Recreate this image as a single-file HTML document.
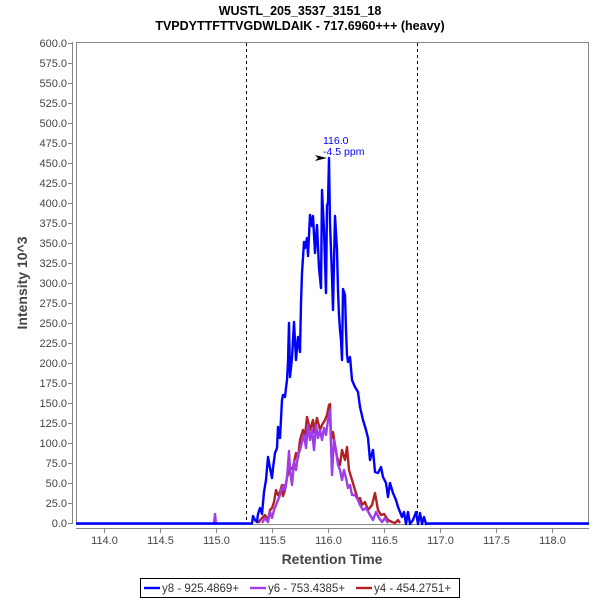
<!DOCTYPE html>
<html><head><meta charset="utf-8"><style>
html,body{margin:0;padding:0;background:#fff;}
svg{display:block;}
text{font-family:"Liberation Sans",sans-serif;}
</style></head><body>
<svg width="600" height="600" viewBox="0 0 600 600" xmlns="http://www.w3.org/2000/svg">
<rect width="600" height="600" fill="#fff"/>
<text x="300" y="15" text-anchor="middle" font-size="12.5" font-weight="bold" fill="#000">WUSTL_205_3537_3151_18</text>
<text x="300" y="30" text-anchor="middle" font-size="12.5" font-weight="bold" fill="#000">TVPDYTTFTTVGDWLDAIK - 717.6960+++ (heavy)</text>

<rect x="76.5" y="42.5" width="512" height="482" fill="#fff" stroke="#888" stroke-width="1"/>
<line x1="72.5" y1="42" x2="72.5" y2="524" stroke="#888" stroke-width="1"/>
<g stroke="#888" stroke-width="1">
<line x1="68" y1="43.5" x2="72" y2="43.5"/><line x1="68" y1="63.5" x2="72" y2="63.5"/><line x1="68" y1="83.5" x2="72" y2="83.5"/><line x1="68" y1="103.5" x2="72" y2="103.5"/><line x1="68" y1="123.5" x2="72" y2="123.5"/><line x1="68" y1="143.5" x2="72" y2="143.5"/><line x1="68" y1="163.5" x2="72" y2="163.5"/><line x1="68" y1="183.5" x2="72" y2="183.5"/><line x1="68" y1="203.5" x2="72" y2="203.5"/><line x1="68" y1="223.5" x2="72" y2="223.5"/><line x1="68" y1="243.5" x2="72" y2="243.5"/><line x1="68" y1="263.5" x2="72" y2="263.5"/><line x1="68" y1="283.5" x2="72" y2="283.5"/><line x1="68" y1="303.5" x2="72" y2="303.5"/><line x1="68" y1="323.5" x2="72" y2="323.5"/><line x1="68" y1="343.5" x2="72" y2="343.5"/><line x1="68" y1="363.5" x2="72" y2="363.5"/><line x1="68" y1="383.5" x2="72" y2="383.5"/><line x1="68" y1="403.5" x2="72" y2="403.5"/><line x1="68" y1="423.5" x2="72" y2="423.5"/><line x1="68" y1="443.5" x2="72" y2="443.5"/><line x1="68" y1="463.5" x2="72" y2="463.5"/><line x1="68" y1="483.5" x2="72" y2="483.5"/><line x1="68" y1="503.5" x2="72" y2="503.5"/><line x1="68" y1="523.5" x2="72" y2="523.5"/>
</g>
<g font-size="11" fill="#444" text-anchor="end">
<text x="67" y="47">600.0</text><text x="67" y="67">575.0</text><text x="67" y="87">550.0</text><text x="67" y="107">525.0</text><text x="67" y="127">500.0</text><text x="67" y="147">475.0</text><text x="67" y="167">450.0</text><text x="67" y="187">425.0</text><text x="67" y="207">400.0</text><text x="67" y="227">375.0</text><text x="67" y="247">350.0</text><text x="67" y="267">325.0</text><text x="67" y="287">300.0</text><text x="67" y="307">275.0</text><text x="67" y="327">250.0</text><text x="67" y="347">225.0</text><text x="67" y="367">200.0</text><text x="67" y="387">175.0</text><text x="67" y="407">150.0</text><text x="67" y="427">125.0</text><text x="67" y="447">100.0</text><text x="67" y="467">75.0</text><text x="67" y="487">50.0</text><text x="67" y="507">25.0</text><text x="67" y="527">0.0</text>
</g>
<line x1="76" y1="528.5" x2="589" y2="528.5" stroke="#888" stroke-width="1"/>
<g stroke="#888" stroke-width="1">
<line x1="104.5" y1="529" x2="104.5" y2="533"/><line x1="160.5" y1="529" x2="160.5" y2="533"/><line x1="216.5" y1="529" x2="216.5" y2="533"/><line x1="272.5" y1="529" x2="272.5" y2="533"/><line x1="328.5" y1="529" x2="328.5" y2="533"/><line x1="384.5" y1="529" x2="384.5" y2="533"/><line x1="440.5" y1="529" x2="440.5" y2="533"/><line x1="496.5" y1="529" x2="496.5" y2="533"/><line x1="552.5" y1="529" x2="552.5" y2="533"/>
</g>
<g font-size="11" fill="#444" text-anchor="middle">
<text x="104.5" y="544">114.0</text><text x="160.5" y="544">114.5</text><text x="216.5" y="544">115.0</text><text x="272.5" y="544">115.5</text><text x="328.5" y="544">116.0</text><text x="384.5" y="544">116.5</text><text x="440.5" y="544">117.0</text><text x="496.5" y="544">117.5</text><text x="552.5" y="544">118.0</text>
</g>
<text x="332" y="564" text-anchor="middle" font-size="14" font-weight="bold" fill="#444">Retention Time</text>
<text transform="translate(27,283) rotate(-90)" text-anchor="middle" font-size="14" font-weight="bold" fill="#444">Intensity 10^3</text>

<line x1="246.5" y1="43" x2="246.5" y2="524" stroke="#000" stroke-width="1" stroke-dasharray="3,3"/>
<line x1="417.5" y1="43" x2="417.5" y2="524" stroke="#000" stroke-width="1" stroke-dasharray="3,3"/>

<g fill="none" stroke-width="2.4" stroke-linejoin="round">
<polyline stroke="#b22222" points="258,523 262,518 265,515 268,520 270,510 272,508 274,502 276,490 278,495 280,492 282,485 283,496 285,490 287,477 290,470 293,467 296,453 298,458 300,440 303,430 305,436 307,417 310,430 313,420 314,432 317,418 320,430 322,425 325,420 327,415 329,405 330,404 331,440 333,432 335,445 337,457 340,465 342,450 345,460 347,447 349,470 352,480 355,490 358,500 360,498 362,505 365,502 368,510 372,505 375,493 378,510 381,515 384,514 388,520 392,522 395,523 398,520 400,523"/>
<polyline stroke="#a03ce8" points="214,524 215,514 216,524"/>
<polyline stroke="#a03ce8" points="262,523 265,518 268,522 270,512 272,518 274,510 276,505 278,500 280,495 282,488 284,485 285,490 287,478 289,451 290,470 292,485 294,462 296,470 298,455 300,450 302,442 304,435 306,448 308,425 310,440 312,430 314,450 316,425 318,438 320,430 322,440 324,428 326,435 328,420 330,410 331,445 332,475 334,440 336,450 338,465 340,470 342,480 344,470 346,478 348,488 350,485 352,495 355,495 358,500 360,505 363,510 366,508 370,515 373,520 376,512 379,518 382,522 385,518 388,523"/>
<polyline stroke="#0000ff" points="76,523.5 252,523.5 253,516 255,520 257,522 258,514 260,508 262,514 264,492 266,480 268,457 270,468 272,478 273,468 275,453 277,448 278,427 279,432 280,438 282,400 283,395 285,397 286,388 287,380 288,362 289,323 290,377 292,358 294,322 296,360 298,337 300,352 301,303 302,273 304,242 305,248 307,238 308,256 310,215 312,226 313,216 315,253 317,225 319,268 321,288 322,190 324,230 326,293 327,205 328,203 329,158 330,223 332,277 333,310 335,216 337,250 338,290 339,315 340,330 341,340 342,360 343,289 345,295 346,330 347,355 348,362 350,357 352,380 355,387 358,392 360,407 363,420 366,430 368,438 370,460 373,450 375,472 378,473 381,467 383,477 386,483 388,497 390,483 393,493 396,500 398,507 400,512 402,517 404,512 406,524 408,512 410,524 413,520 416,512 418,524 420,513 422,524 424,517 426,524 428,523.5 589,523.5"/>
</g>

<text x="323" y="144" font-size="10.5" fill="#0000ff">116.0</text>
<text x="323" y="155" font-size="10.5" fill="#0000ff">-4.5 ppm</text>
<polygon points="315,155 327,158 315,161 318,158" fill="#000"/>

<rect x="140.5" y="578.5" width="319" height="19" fill="#fff" stroke="#000" stroke-width="1"/>
<line x1="144" y1="588" x2="160" y2="588" stroke="#0000ff" stroke-width="2.4"/>
<text x="162" y="592" font-size="11.5" fill="#333">y8 - 925.4869+</text>
<line x1="250" y1="588" x2="266" y2="588" stroke="#a03ce8" stroke-width="2.4"/>
<text x="268" y="592" font-size="11.5" fill="#333">y6 - 753.4385+</text>
<line x1="356" y1="588" x2="372" y2="588" stroke="#b22222" stroke-width="2.4"/>
<text x="374" y="592" font-size="11.5" fill="#333">y4 - 454.2751+</text>
</svg>
</body></html>
